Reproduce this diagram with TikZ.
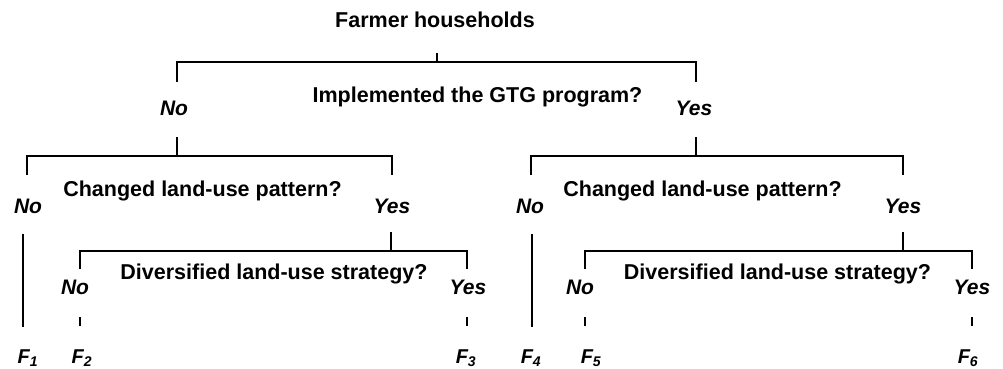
\documentclass[tikz,border=0pt]{standalone}
\usepackage{fontspec}
\setmainfont{Liberation Sans}
\begin{document}
\begin{tikzpicture}[x=1pt,y=-1pt,
  q/.style={anchor=base,inner sep=0pt,font=\fontsize{21.5}{24}\selectfont\bfseries},
  ans/.style={anchor=base,inner sep=0pt,font=\fontsize{21}{24}\selectfont\bfseries\itshape},
  leaf/.style={anchor=base,inner sep=0pt,font=\fontsize{20}{23}\selectfont\bfseries\itshape},
  br/.style={line width=1.2pt,line cap=butt}]
\useasboundingbox (0,0) rectangle (1003,368);
% texts
\node[q] (root) at (435,27) {Farmer households};
\node[q] (q1) at (477.5,102) {Implemented the GTG program?};
\node[ans] (n1) at (174,115) {No};
\node[ans] (y1) at (694,115) {Yes};
\node[q] (q2l) at (202.5,196) {Changed land-use pattern?};
\node[q] (q2r) at (702.5,196) {Changed land-use pattern?};
\node[ans] (n2l) at (28,213) {No};
\node[ans] (y2l) at (392,213) {Yes};
\node[ans] (n2r) at (530,213) {No};
\node[ans] (y2r) at (903,213) {Yes};
\node[q] (q3l) at (274,279) {Diversified land-use strategy?};
\node[q] (q3r) at (777.5,279) {Diversified land-use strategy?};
\node[ans] (n3l) at (75,294) {No};
\node[ans] (y3l) at (468,294) {Yes};
\node[ans] (n3r) at (580,294) {No};
\node[ans] (y3r) at (972,294) {Yes};
\node[leaf] (f1) at (28,363) {F\textsubscript{1}};
\node[leaf] (f2) at (82,363) {F\textsubscript{2}};
\node[leaf] (f3) at (466,363) {F\textsubscript{3}};
\node[leaf] (f4) at (531,363) {F\textsubscript{4}};
\node[leaf] (f5) at (591,363) {F\textsubscript{5}};
\node[leaf] (f6) at (968,363) {F\textsubscript{6}};
% level 1 bracket
\coordinate (r0) at (437,53); \coordinate (r1) at (437,62);
\coordinate (a1) at (177,62); \coordinate (a2) at (177,82);
\coordinate (b1) at (696,62); \coordinate (b2) at (696,82);
\draw[br] (r0) -- (r1);
\draw[br] (a2) -- (a1) -- (b1) -- (b2);
% level 2 left
\coordinate (c0) at (177,137); \coordinate (c1) at (177,156);
\coordinate (c2) at (27,156); \coordinate (c3) at (27,175);
\coordinate (c4) at (392,156); \coordinate (c5) at (392,175);
\draw[br] (c0) -- (c1);
\draw[br] (c3) -- (c2) -- (c4) -- (c5);
% level 2 right
\coordinate (d0) at (696,137); \coordinate (d1) at (696,156);
\coordinate (d2) at (531,156); \coordinate (d3) at (531,175);
\coordinate (d4) at (903,156); \coordinate (d5) at (903,175);
\draw[br] (d0) -- (d1);
\draw[br] (d3) -- (d2) -- (d4) -- (d5);
% No -> F1, F4
\coordinate (e0) at (23,234); \coordinate (e1) at (23,327);
\coordinate (g0) at (532,234); \coordinate (g1) at (532,327);
\draw[br] (e0) -- (e1);
\draw[br] (g0) -- (g1);
% level 3 left
\coordinate (h0) at (391,232); \coordinate (h1) at (391,251);
\coordinate (h2) at (80,251); \coordinate (h3) at (80,269);
\coordinate (h4) at (467,251); \coordinate (h5) at (467,269);
\draw[br] (h0) -- (h1);
\draw[br] (h3) -- (h2) -- (h4) -- (h5);
\coordinate (i0) at (80,317); \coordinate (i1) at (80,326);
\coordinate (i2) at (467,317); \coordinate (i3) at (467,326);
\draw[br] (i0) -- (i1);
\draw[br] (i2) -- (i3);
% level 3 right
\coordinate (k0) at (903,232); \coordinate (k1) at (903,251);
\coordinate (k2) at (585,251); \coordinate (k3) at (585,269);
\coordinate (k4) at (972,251); \coordinate (k5) at (972,269);
\draw[br] (k0) -- (k1);
\draw[br] (k3) -- (k2) -- (k4) -- (k5);
\coordinate (m0) at (585,317); \coordinate (m1) at (585,326);
\coordinate (m2) at (972,317); \coordinate (m3) at (972,326);
\draw[br] (m0) -- (m1);
\draw[br] (m2) -- (m3);
\end{tikzpicture}
\end{document}
